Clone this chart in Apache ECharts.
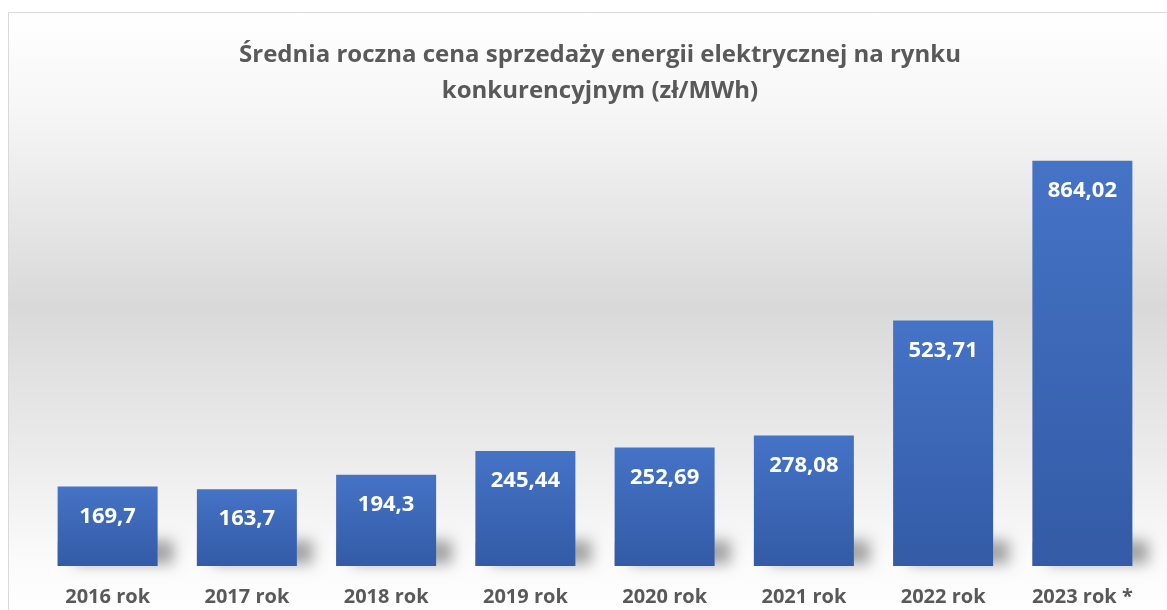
<!DOCTYPE html>
<html>
<head>
<meta charset="utf-8">
<script src="https://cdn.jsdelivr.net/npm/echarts@6/dist/echarts.min.js"></script>
<style>
  html, body { margin: 0; padding: 0; background: #fff; }
  #chart { width: 1167px; height: 610px; }
</style>
</head>
<body>
<div id="chart"></div>
<script>
// dane z wykresu
var years = ['2016 rok', '2017 rok', '2018 rok', '2019 rok', '2020 rok', '2021 rok', '2022 rok', '2023 rok *'];
var prices = [169.7, 163.7, 194.3, 245.44, 252.69, 278.08, 523.71, 864.02];
var shadowBase = [50, 50, 50, 50, 50, 50, 50, 50]; // cien pod slupkami (dekoracja)

var chart = echarts.init(document.getElementById('chart'));

var option = {
  animation: false,
  graphic: [{
    type: 'rect',
    z: -10,
    shape: { x: 8.5, y: 12.5, width: 1170, height: 610 },
    style: {
      fill: new echarts.graphic.LinearGradient(0, 0, 0, 1, [
        { offset: 0, color: '#ffffff' },
        { offset: 0.15, color: '#f7f7f7' },
        { offset: 0.48, color: '#d9d9d9' },
        { offset: 0.72, color: '#ebebeb' },
        { offset: 0.9, color: '#fbfbfb' },
        { offset: 1, color: '#ffffff' }
      ]),
      stroke: '#d9d9d9',
      lineWidth: 1
    }
  }],
  title: {
    text: 'Średnia roczna cena sprzedaży energii elektrycznej na rynku\nkonkurencyjnym (zł/MWh)',
    left: 595,
    top: 32,
    textAlign: 'center',
    textStyle: {
      fontFamily: 'Open Sans',
      fontWeight: 'bold',
      fontSize: 24,
      color: '#595959',
      lineHeight: 36
    }
  },
  grid: {
    left: 38,
    right: 15,
    top: 97,
    bottom: 44,
    containLabel: false
  },
  xAxis: {
    type: 'category',
    data: years,
    axisLine: { show: false },
    axisTick: { show: false },
    axisLabel: {
      margin: 21,
      fontFamily: 'Open Sans',
      fontWeight: 'bold',
      fontSize: 20,
      color: '#595959'
    }
  },
  yAxis: {
    type: 'value',
    min: 0,
    max: 1000,
    show: false
  },
  series: [{
    // cien
    type: 'bar',
    data: shadowBase,
    barWidth: 100,
    silent: true,
    itemStyle: {
      color: '#bdbdbd',
      shadowColor: 'rgba(0,0,0,0.35)',
      shadowBlur: 14,
      shadowOffsetX: 16,
      shadowOffsetY: -2
    }
  }, {
    type: 'bar',
    data: prices,
    barWidth: 100,
    barGap: '-100%',
    itemStyle: {
      color: new echarts.graphic.LinearGradient(0, 0, 0, 1, [
        { offset: 0, color: '#4573c6' },
        { offset: 1, color: '#335ba6' }
      ])
    },
    label: {
      show: true,
      position: 'insideTop',
      distance: 19,
      fontFamily: 'Open Sans',
      fontWeight: 'bold',
      fontSize: 22,
      color: '#ffffff',
      formatter: function (p) {
        return String(p.value).replace('.', ',');
      }
    }
  }]
};

chart.setOption(option);
</script>
</body>
</html>
